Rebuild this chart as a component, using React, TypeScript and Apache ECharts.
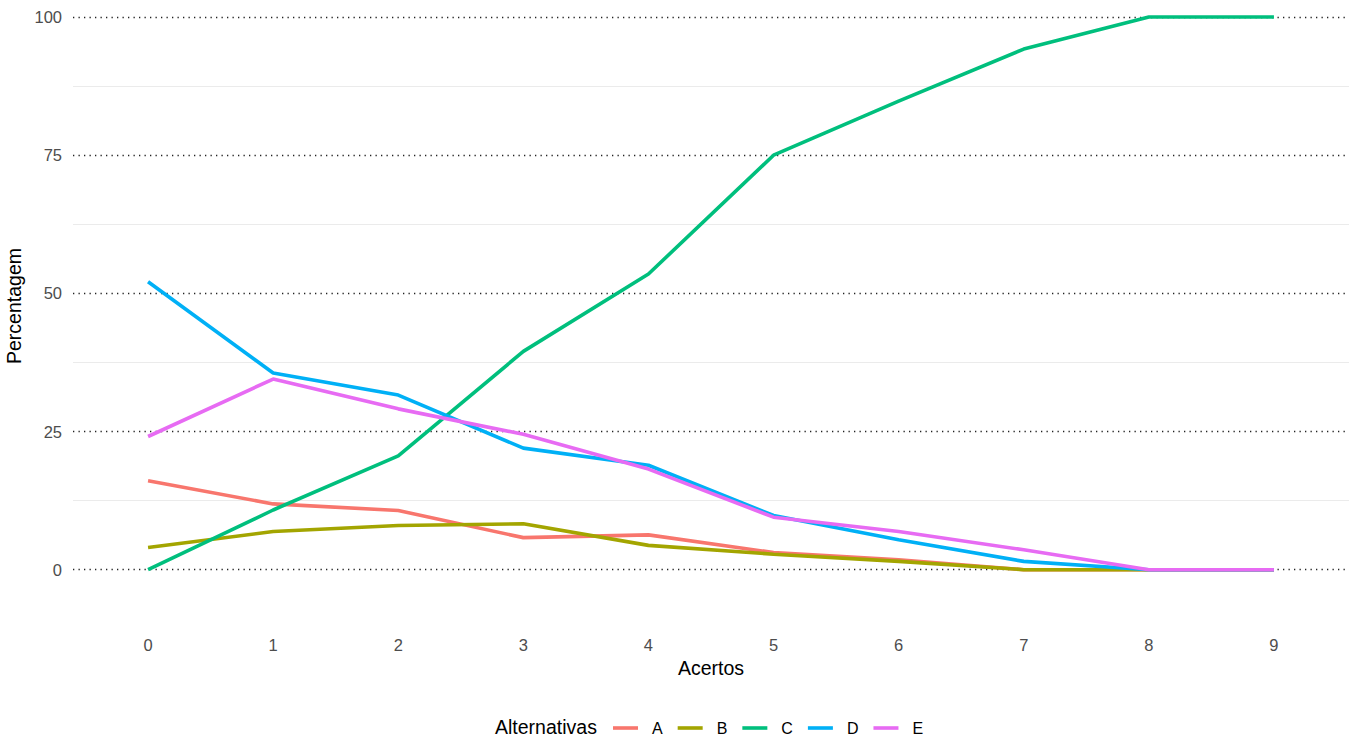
import React, { useEffect, useRef } from "react";
import * as echarts from "echarts";

const acertos = [0, 1, 2, 3, 4, 5, 6, 7, 8, 9];
const serieA = [16.1, 11.9, 10.7, 5.8, 6.3, 3.1, 1.8, 0, 0, 0];
const serieB = [4.0, 6.9, 8.0, 8.3, 4.4, 2.8, 1.5, 0, 0, 0];
const serieC = [0, 10.8, 20.6, 39.5, 53.5, 75.0, 84.8, 94.2, 100, 100];
const serieD = [52.1, 35.6, 31.6, 22.0, 18.9, 9.8, 5.4, 1.5, 0, 0];
const serieE = [24.1, 34.5, 29.1, 24.5, 18.2, 9.5, 6.9, 3.6, 0, 0];
const seriesNames = ["A", "B", "C", "D", "E"];
const seriesColors = ["#F8766D", "#A3A500", "#00BF7D", "#00B0F6", "#E76BF3"];
const yMajor = [0, 25, 50, 75, 100];
const yMinor = [12.5, 37.5, 62.5, 87.5];

const FONT = "'Liberation Sans', Arial, sans-serif";

export default function App() {
  const ref = useRef<HTMLDivElement>(null);
  useEffect(() => {
    if (!ref.current) return;
    const chart = echarts.init(ref.current, undefined, { renderer: "svg" });
    const values = [serieA, serieB, serieC, serieD, serieE];
    const lineSeries = seriesNames.map((name, i) => ({
      name,
      type: "line",
      data: acertos.map((x, j) => [x, values[i][j]]),
      showSymbol: false,
      symbol: "none",
      lineStyle: { width: 3.6, color: seriesColors[i] },
      itemStyle: { color: seriesColors[i] },
      z: 3,
    }));
    chart.setOption({
      animation: false,
      backgroundColor: "#ffffff",
      textStyle: { fontFamily: FONT },
      grid: {
        left: 73,
        right: 10,
        top: 6,
        bottom: 107,
        containLabel: false,
        outerBoundsMode: "none",
      },
      xAxis: {
        type: "value",
        min: -0.6,
        max: 9.6,
        axisLine: { show: false },
        axisTick: { show: false, customValues: acertos },
        splitLine: { show: false },
        axisLabel: {
          customValues: acertos,
          color: "#4D4D4D",
          fontSize: 16.5,
          fontFamily: FONT,
          margin: 0,
        },
        name: "Acertos",
        nameLocation: "middle",
        nameGap: 17,
        nameTextStyle: { color: "#000000", fontSize: 19.5, fontFamily: FONT },
      },
      yAxis: {
        type: "value",
        min: -12,
        max: 102,
        axisLine: { show: false },
        axisTick: { show: false, customValues: yMajor },
        splitLine: { show: false },
        axisLabel: {
          customValues: yMajor,
          color: "#4D4D4D",
          fontSize: 16.5,
          fontFamily: FONT,
          margin: 11,
        },
        name: "Percentagem",
        nameLocation: "middle",
        nameRotate: 90,
        nameGap: 49,
        nameTextStyle: {
          color: "#000000",
          fontSize: 19.5,
          fontFamily: FONT,
          padding: [0, 0, 0, 30],
        },
      },
      legend: {
        data: seriesNames,
        left: 613,
        top: 720,
        padding: 0,
        orient: "horizontal",
        icon: "rect",
        itemWidth: 25,
        itemHeight: 3.6,
        itemGap: 15,
        textStyle: {
          color: "#000000",
          fontSize: 16,
          fontFamily: FONT,
          padding: [0, 0, 0, 9],
        },
      },
      graphic: [
        {
          type: "text",
          left: 495,
          top: 717,
          style: {
            text: "Alternativas",
            fill: "#000000",
            font: `19.5px ${FONT}`,
          },
        },
      ],
      series: [
        {
          name: "grid",
          type: "line",
          data: [],
          z: 1,
          markLine: {
            silent: true,
            symbol: ["none", "none"],
            z: 1,
            label: { show: false },
            data: [
              ...yMinor.map((v) => ({
                yAxis: v,
                lineStyle: { color: "#EBEBEB", width: 1.1, type: "solid" },
              })),
              ...yMajor.map((v) => ({
                yAxis: v,
                lineStyle: { color: "#222222", width: 1.3, type: [1.3, 4.2] },
              })),
            ],
          },
        },
        ...lineSeries,
      ],
    });
    return () => chart.dispose();
  }, []);
  return (
    <div
      ref={ref}
      style={{ position: "fixed", left: 0, top: 0, width: 1359, height: 743 }}
    />
  );
}
